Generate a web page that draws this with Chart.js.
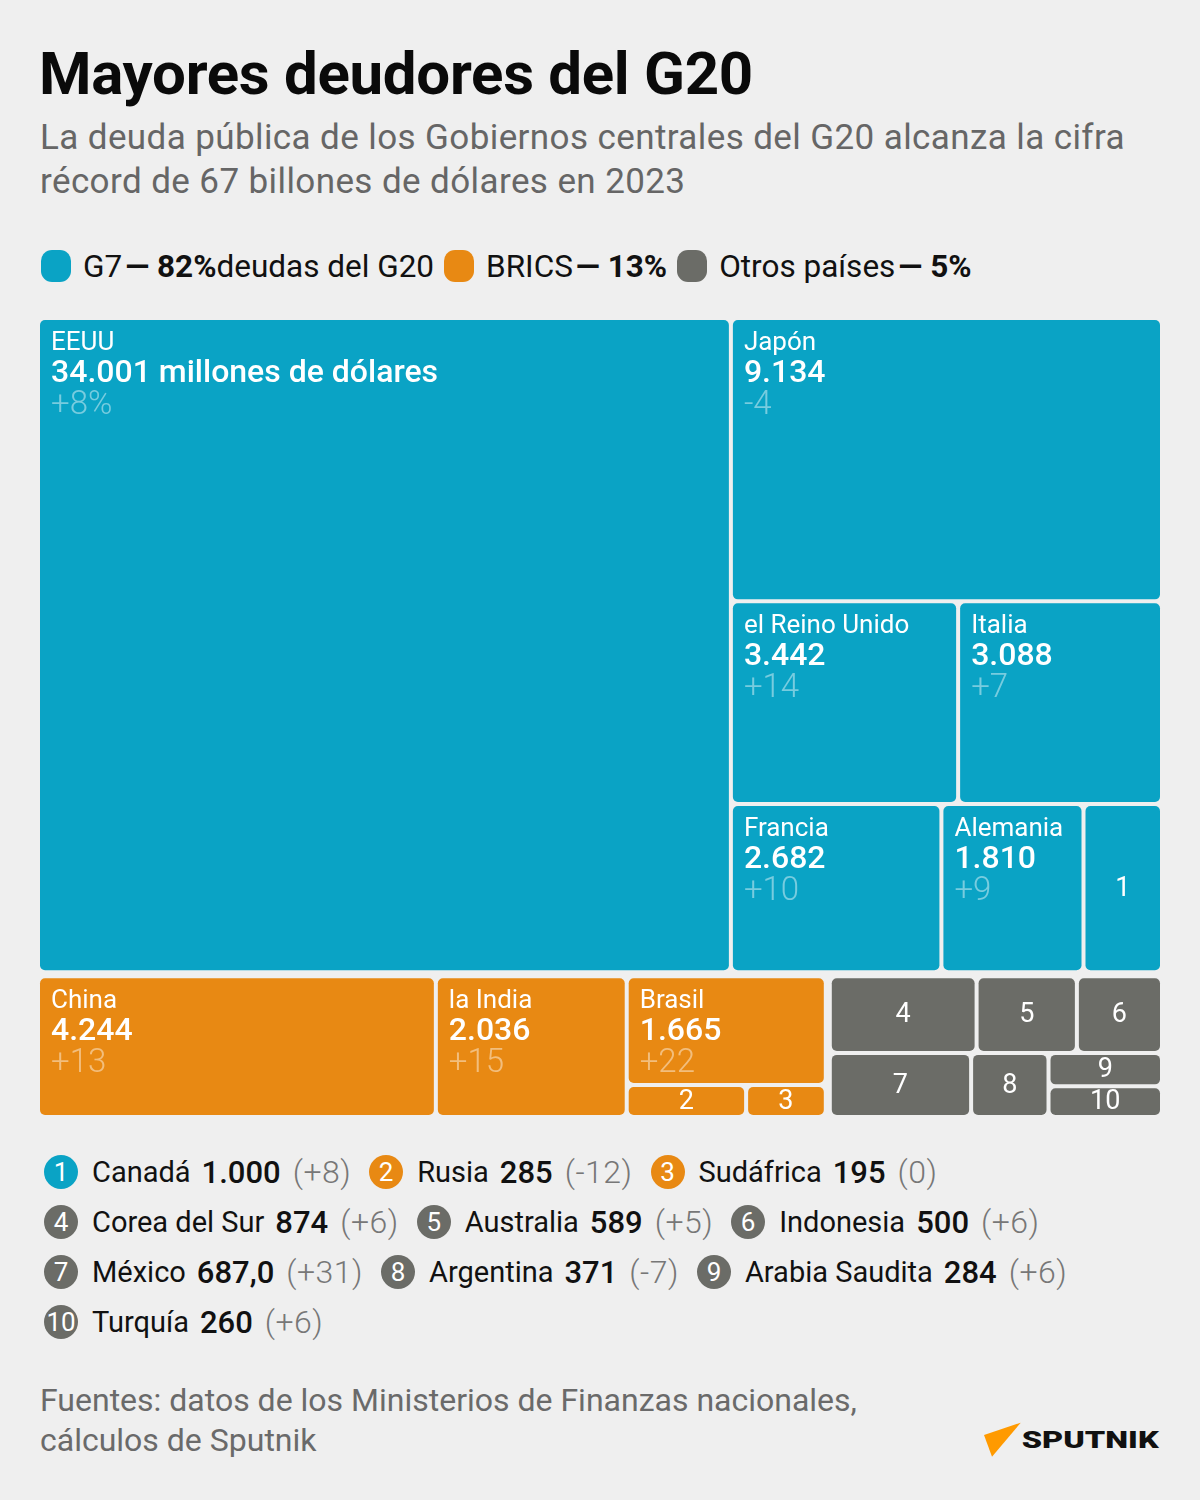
<!DOCTYPE html>
<html>
<head>
<meta charset="utf-8">
<script src="https://cdn.jsdelivr.net/npm/chart.js@4.4.1/dist/chart.umd.min.js"></script>
<style>
  html, body { margin:0; padding:0; }
  body { width:1200px; height:1500px; background:#efefef; font-family: Roboto, "Noto Sans", sans-serif; position:relative; overflow:hidden; color:#111; }
  #title { position:absolute; left:39px; top:38px; font-size:60px; font-weight:700; color:#0a0a0a; letter-spacing:-0.3px; margin:0; line-height:72px; white-space:nowrap; }
  #subtitle { position:absolute; left:40px; top:116px; width:1115px; font-size:35px; letter-spacing:0.4px; line-height:44px; color:#666; }
  #legend { position:absolute; left:41px; top:248px; height:36px; display:flex; align-items:center; font-size:31.5px; white-space:nowrap; color:#111; }
  .sw { width:30px; height:32px; border-radius:11px; display:inline-block; margin-right:12px; }
  .lg { display:flex; align-items:center; margin-right:10px; }
  .lg b { font-weight:700; margin-left:3px; }
  #chartWrap { position:absolute; left:36px; top:316px; width:1128px; height:803px; }
  #list { position:absolute; left:44px; top:1147px; width:1120px; display:flex; flex-wrap:wrap; font-size:29px; }
  .it { display:flex; align-items:center; height:50px; margin-right:18px; white-space:nowrap; }
  .num { width:34px; height:34px; border-radius:50%; color:#fff; font-size:26px; display:flex; align-items:center; justify-content:center; margin-right:14px; }
  .nm { color:#111; margin-right:11px; }
  .vl { color:#111; font-weight:500; font-size:31px; margin-right:12px; }
  .ch { color:#777; font-weight:300; font-size:32px; letter-spacing:0.5px; }
  #source { position:absolute; left:40px; top:1380px; font-size:32px; line-height:40px; color:#6a6a6a; }
  #logo { position:absolute; left:975px; top:1415px; }
</style>
</head>
<body>
<div id="title">Mayores deudores del G20</div>
<div id="subtitle">La deuda pública de los Gobiernos centrales del G20 alcanza la cifra récord de 67 billones de dólares en 2023</div>
<div id="legend"></div>
<div id="chartWrap"><canvas id="c"></canvas></div>
<div id="list"></div>
<div id="source">Fuentes: datos de los Ministerios de Finanzas nacionales,<br>cálculos de Sputnik</div>
<svg id="logo" width="190" height="50" viewBox="0 0 190 50">
  <polygon points="45.7,7.7 9,20 17,41.7" fill="#ff9a00"/>
  <text x="46.7" y="33.3" font-family="Roboto, sans-serif" font-weight="900" font-size="24" textLength="137" lengthAdjust="spacingAndGlyphs" fill="#111">SPUTNIK</text>
</svg>

<script>
// ---- DATA ----
const countries = ['EEUU','Japón','el Reino Unido','Italia','Francia','Alemania','Canadá','China','la India','Brasil','Rusia','Sudáfrica','Corea del Sur','Australia','Indonesia','México','Argentina','Arabia Saudita','Turquía'];
const values = [34001, 9134, 3442, 3088, 2682, 1810, 1000, 4244, 2036, 1665, 285, 195, 874, 589, 500, 687, 371, 284, 260];
const valueLabels = ['34.001','9.134','3.442','3.088','2.682','1.810','1.000','4.244','2.036','1.665','285','195','874','589','500','687,0','371','284','260'];
const changes = ['+8%','-4','+14','+7','+10','+9','+8','+13','+15','+22','-12','0','+6','+5','+6','+31','-7','+6','+6'];
const groups = ['G7','G7','G7','G7','G7','G7','G7','BRICS','BRICS','BRICS','BRICS','BRICS','Otros','Otros','Otros','Otros','Otros','Otros','Otros'];
const cellNumbers = [0,0,0,0,0,0,1,0,0,0,2,3,4,5,6,7,8,9,10];
const unitSuffix = ' millones de dólares';
const groupNames = ['G7','BRICS','Otros países'];
const groupKeys = ['G7','BRICS','Otros'];
const groupShares = ['82%','13%','5%'];
const groupNotes = ['deudas del G20','',''];
// nesting of the treemap (h = side by side, v = stacked), leaves are country indices
const nesting = ['v',
  ['h', 0, ['v', 1, ['h', 2, 3], ['h', 4, 5, 6]]],
  ['h', ['h', 7, 8, ['v', 9, ['h', 10, 11]]],
        ['v', ['h', 12, 13, 14], ['h', 15, 16, ['v', 17, 18]]]]
];

const colors = { G7:'#0aa3c5', BRICS:'#e88913', Otros:'#6b6c67' };

// ---- legend ----
const legend = document.getElementById('legend');
groupNames.forEach((g, i) => {
  const d = document.createElement('div');
  d.className = 'lg';
  d.innerHTML = `<span class="sw" style="background:${colors[groupKeys[i]]}"></span>${g}<b>— ${groupShares[i]}</b>${groupNotes[i]}`;
  legend.appendChild(d);
});

// ---- numbered list ----
const list = document.getElementById('list');
const numbered = cellNumbers.map((n, i) => [n, i]).filter(p => p[0] > 0).sort((a, b) => a[0] - b[0]);
numbered.forEach(([n, i]) => {
  const d = document.createElement('div');
  d.className = 'it';
  d.innerHTML = `<span class="num" style="background:${colors[groups[i]]}">${n}</span><span class="nm">${countries[i]}</span><span class="vl">${valueLabels[i]}</span><span class="ch">(${changes[i]})</span>`;
  list.appendChild(d);
});

// ---- treemap layout in data units (0..100) ----
function nodeSum(n) {
  if (typeof n === 'number') return values[n];
  return n.slice(1).reduce((s, c) => s + nodeSum(c), 0);
}
const cells = [];
function layout(n, x0, y0, x1, y1) {
  if (typeof n === 'number') { cells.push({ i: n, x0, y0, x1, y1 }); return; }
  const dir = n[0], kids = n.slice(1), tot = nodeSum(n);
  let acc = 0;
  kids.forEach(k => {
    const a = acc / tot, b = (acc + nodeSum(k)) / tot;
    if (dir === 'h') layout(k, x0 + (x1 - x0) * a, y0, x0 + (x1 - x0) * b, y1);
    else layout(k, x0, y0 + (y1 - y0) * a, x1, y0 + (y1 - y0) * b);
    acc += nodeSum(k);
  });
}
layout(nesting, 0, 0, 100, 100);

// group bounding boxes (for the wider gap between groups)
const gbox = {};
cells.forEach(c => {
  const g = groups[c.i];
  if (!gbox[g]) gbox[g] = { x0: c.x0, y0: c.y0, x1: c.x1, y1: c.y1 };
  const b = gbox[g];
  b.x0 = Math.min(b.x0, c.x0); b.y0 = Math.min(b.y0, c.y0);
  b.x1 = Math.max(b.x1, c.x1); b.y1 = Math.max(b.y1, c.y1);
});
const near = (a, b) => Math.abs(a - b) < 1e-6;

const treemapPlugin = {
  id: 'treemapCells',
  afterDatasetsDraw(chart) {
    const ctx = chart.ctx, xs = chart.scales.x, ys = chart.scales.y;
    const g = 2, gg = 2;
    cells.forEach(c => {
      const b = gbox[groups[c.i]];
      const ex0 = (near(c.x0, b.x0) && !near(c.x0, 0)) ? gg : 0;
      const ex1 = (near(c.x1, b.x1) && !near(c.x1, 100)) ? gg : 0;
      const ey0 = (near(c.y0, b.y0) && !near(c.y0, 0)) ? gg : 0;
      const ey1 = (near(c.y1, b.y1) && !near(c.y1, 100)) ? gg : 0;
      const px0 = xs.getPixelForValue(c.x0) + g + ex0, px1 = xs.getPixelForValue(c.x1) - g - ex1;
      const py0 = ys.getPixelForValue(c.y0) + g + ey0, py1 = ys.getPixelForValue(c.y1) - g - ey1;
      ctx.save();
      ctx.fillStyle = colors[groups[c.i]];
      ctx.beginPath();
      ctx.roundRect(px0, py0, px1 - px0, py1 - py0, 5);
      ctx.fill();
      ctx.fillStyle = '#fff';
      if (cellNumbers[c.i] === 0) {
        ctx.textAlign = 'left'; ctx.textBaseline = 'alphabetic';
        ctx.font = '400 26px Roboto';
        ctx.fillText(countries[c.i], px0 + 11, py0 + 30);
        ctx.font = '500 32px Roboto';
        ctx.fillText(valueLabels[c.i] + (c.i === 0 ? unitSuffix : ''), px0 + 11, py0 + 62);
        ctx.font = '300 33px Roboto';
        ctx.fillStyle = 'rgba(255,255,255,0.45)';
        ctx.fillText(changes[c.i], px0 + 11, py0 + 94);
      } else {
        ctx.textAlign = 'center'; ctx.textBaseline = 'middle';
        ctx.font = '400 27px Roboto';
        ctx.fillText(String(cellNumbers[c.i]), (px0 + px1) / 2, (py0 + py1) / 2 + 1);
      }
      ctx.restore();
    });
  }
};

new Chart(document.getElementById('c'), {
  type: 'scatter',
  data: {
    datasets: [{
      data: cells.map(c => ({ x: (c.x0 + c.x1) / 2, y: (c.y0 + c.y1) / 2 })),
      pointRadius: 0, pointHoverRadius: 0
    }]
  },
  options: {
    responsive: true, maintainAspectRatio: false, animation: false,
    layout: { padding: 2 },
    scales: {
      x: { type: 'linear', min: 0, max: 100, display: false },
      y: { type: 'linear', min: 0, max: 100, reverse: true, display: false }
    },
    plugins: { legend: { display: false }, tooltip: { enabled: false } },
    events: []
  },
  plugins: [treemapPlugin]
});
</script>
</body>
</html>
